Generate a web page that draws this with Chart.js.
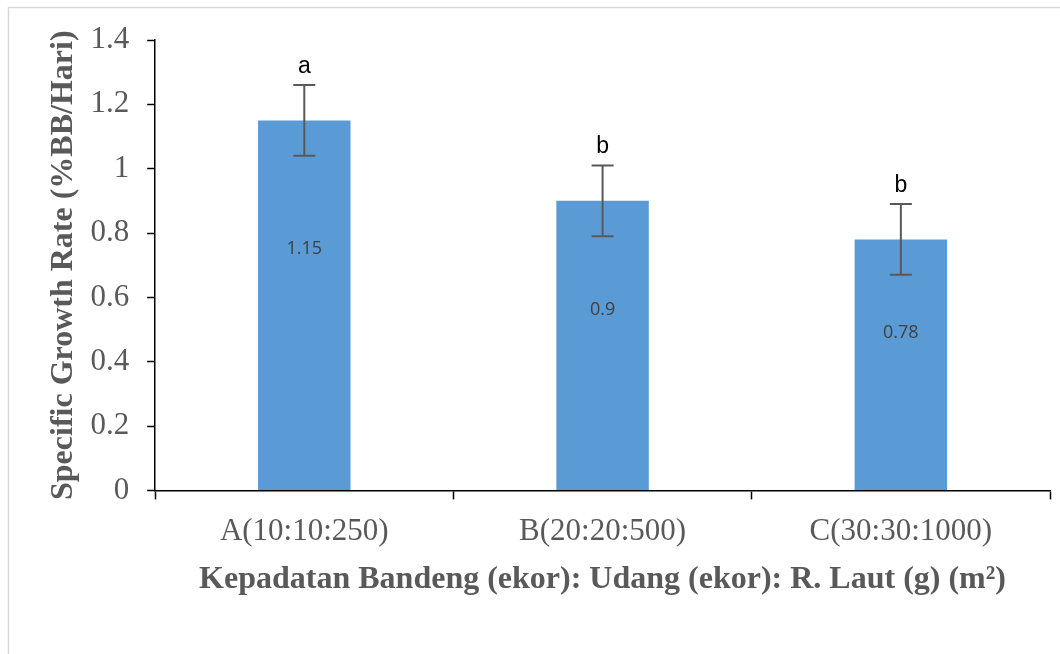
<!DOCTYPE html>
<html>
<head>
<meta charset="utf-8">
<script src="https://cdn.jsdelivr.net/npm/chart.js@4"></script>
<style>
  html, body { margin: 0; padding: 0; background: #fff; }
  #wrap { width: 1060px; height: 654px; position: relative; }
</style>
</head>
<body>
<div id="wrap"><canvas id="chart1" width="1060" height="654"></canvas></div>
<script>
// SGR per treatment
const categories = ["A(10:10:250)", "B(20:20:500)", "C(30:30:1000)"];
const sgrValues = [1.15, 0.9, 0.78];
const sgrErrors = [0.11, 0.11, 0.11];
const sigLetters = ["a", "b", "b"];
const yTicks = [0, 0.2, 0.4, 0.6, 0.8, 1, 1.2, 1.4];

const ctx1 = document.getElementById("chart1").getContext("2d");

// frame around the figure (light gray, left + top)
const framePlugin = {
  id: "frame",
  beforeDraw(chart) {
    const c = chart.ctx;
    c.save();
    c.fillStyle = "#fff";
    c.fillRect(0, 0, chart.width, chart.height);
    c.strokeStyle = "#d9d9d9";
    c.lineWidth = 1.5;
    c.beginPath();
    c.moveTo(8.5, chart.height);
    c.lineTo(8.5, 7.5);
    c.lineTo(chart.width, 7.5);
    c.stroke();
    c.restore();
  },
};

// error bars, letters and value labels
const labelsInsideAt = [0.75, 0.56, 0.49];
const extrasPlugin = {
  id: "extras",
  afterDatasetsDraw(chart) {
    const c = chart.ctx;
    const x = chart.scales.x;
    const y = chart.scales.y;
    c.save();
    sgrValues.forEach((v, i) => {
      const px = x.getPixelForValue(i);
      const top = y.getPixelForValue(v + sgrErrors[i]);
      const bot = y.getPixelForValue(v - sgrErrors[i]);
      c.strokeStyle = "#595959";
      c.lineWidth = 2;
      c.beginPath();
      c.moveTo(px, top);
      c.lineTo(px, bot);
      c.moveTo(px - 11, top);
      c.lineTo(px + 11, top);
      c.moveTo(px - 11, bot);
      c.lineTo(px + 11, bot);
      c.stroke();

      c.fillStyle = "#000";
      c.font = "23px 'Liberation Sans', Arial, sans-serif";
      c.textAlign = "center";
      c.textBaseline = "bottom";
      c.fillText(sigLetters[i], px, top - 7);

      c.fillStyle = "#404040";
      c.font = "18px 'Open Sans', 'Liberation Sans', sans-serif";
      c.textBaseline = "middle";
      c.fillText(String(v), px, y.getPixelForValue(labelsInsideAt[i]));
    });
    c.restore();
  },
};

const sgrChart = new Chart(ctx1, {
  type: "bar",
  data: {
    labels: categories,
    datasets: [
      {
        label: "SGR",
        backgroundColor: "#5b9bd5",
        data: sgrValues,
        barPercentage: 0.31,
        categoryPercentage: 1,
      },
    ],
  },
  options: {
    responsive: false,
    animation: false,
    devicePixelRatio: 1,
    layout: { padding: { top: 40, right: 10, left: 45, bottom: 47 } },
    plugins: {
      legend: { display: false },
      tooltip: { enabled: false },
    },
    scales: {
      x: {
        offset: true,
        border: { color: "#000", width: 1.5 },
        grid: {
          offset: true,
          drawOnChartArea: false,
          drawTicks: true,
          tickLength: 9,
          tickColor: "#000",
          tickWidth: 1.5,
        },
        ticks: {
          color: "#595959",
          padding: 14,
          maxRotation: 0,
          autoSkip: false,
          font: { family: "'Liberation Serif', 'Times New Roman', serif", size: 31 },
        },
        title: {
          display: true,
          text: "Kepadatan Bandeng (ekor): Udang (ekor): R. Laut (g) (m²)",
          color: "#595959",
          padding: { top: -4, bottom: 8 },
          font: { family: "'Liberation Serif', 'Times New Roman', serif", size: 32, weight: "bold" },
        },
      },
      y: {
        min: 0,
        max: 1.4,
        afterBuildTicks: (scale) => {
          scale.ticks = yTicks.map((v) => ({ value: v }));
        },
        border: { color: "#000", width: 1.5 },
        grid: {
          drawOnChartArea: false,
          drawTicks: true,
          tickLength: 8,
          tickColor: "#000",
          tickWidth: 1.5,
        },
        ticks: {
          color: "#595959",
          padding: 18,
          callback: (v) => String(+Number(v).toFixed(1)),
          font: { family: "'Liberation Serif', 'Times New Roman', serif", size: 31 },
        },
        title: {
          display: true,
          text: "Specific Growth Rate (%BB/Hari)",
          color: "#595959",
          padding: { top: 0, bottom: -11 },
          font: { family: "'Liberation Serif', 'Times New Roman', serif", size: 32, weight: "bold" },
        },
      },
    },
  },
  plugins: [framePlugin, extrasPlugin],
});
</script>
</body>
</html>
